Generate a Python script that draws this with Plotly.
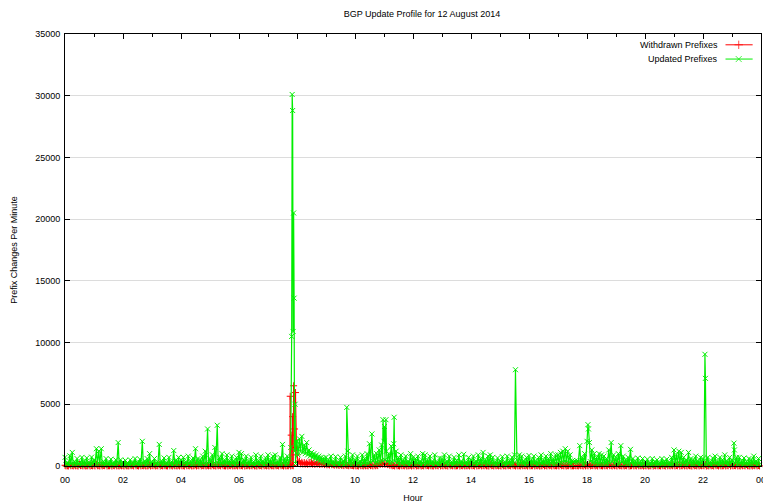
import plotly.graph_objects as go

# ---------------- data ----------------
# Updated prefixes per minute: peaks sampled at minute 5*i (12 values per hour)
updated_5min = [
    700, 300, 820, 1100, 350, 600, 280, 700, 400, 650, 300, 720,      # 00
    500, 1400, 1200, 1400, 350, 600, 300, 550, 250, 500, 1900, 500,   # 01
    300, 450, 250, 500, 300, 600, 280, 550, 2000, 400, 600, 1000,     # 02
    350, 600, 300, 1750, 400, 650, 300, 700, 350, 1250, 500, 700,     # 03
    500, 700, 350, 800, 400, 650, 1400, 600, 500, 800, 1200, 3000,    # 04
    600, 900, 1500, 3300, 700, 1000, 500, 900, 450, 800, 400, 700,    # 05
    1100, 1000, 500, 800, 400, 700, 350, 900, 450, 800, 400, 650,     # 06
    900, 500, 800, 900, 400, 700, 1750, 600, 800, 600, 900, 1200,     # 07
    2000, 2200, 2400, 1700, 1900, 1300, 1100, 1000, 900, 800, 700, 650,  # 08
    700, 500, 800, 400, 750, 350, 700, 400, 800, 1200, 600, 900,      # 09
    500, 800, 400, 900, 600, 1000, 1800, 2600, 900, 1000, 1300, 1700, # 10
    2000, 1200, 1000, 1600, 1800, 1200, 700, 900, 500, 800, 400, 1000,  # 11
    700, 600, 800, 400, 1000, 900, 500, 800, 400, 900, 350, 650,      # 12
    600, 900, 400, 800, 350, 700, 450, 900, 400, 950, 350, 700,       # 13
    500, 800, 400, 900, 600, 1100, 500, 800, 900, 700, 350, 650,      # 14
    400, 750, 350, 800, 450, 700, 900, 500, 900, 800, 400, 700,       # 15
    850, 500, 800, 400, 700, 900, 500, 800, 600, 1000, 600, 900,      # 16
    900, 1100, 1200, 1400, 1200, 900, 450, 400, 420, 1650, 700, 1000, # 17
    2000, 1900, 1300, 1000, 700, 1000, 900, 800, 600, 1300, 1900, 900,  # 18
    700, 1000, 1650, 800, 500, 700, 1350, 600, 400, 650, 350, 600,    # 19
    300, 550, 250, 600, 350, 500, 300, 600, 400, 550, 300, 700,       # 20
    1300, 900, 1200, 1100, 700, 500, 1100, 600, 500, 800, 400, 700,   # 21
    600, 400, 700, 350, 650, 800, 400, 700, 500, 900, 400, 700,       # 22
    500, 1300, 700, 700, 400, 650, 350, 600, 500, 800, 400, 600,      # 23
]
# Updated prefixes: troughs sampled at minute 5*i + 2
updated_5min_low = [
    120, 60, 150, 90, 80, 130, 60, 110, 70, 120, 60, 140,         # 00
    100, 150, 180, 130, 60, 110, 70, 120, 60, 100, 180, 80,       # 01
    60, 110, 50, 120, 70, 130, 60, 110, 150, 70, 120, 100,        # 02
    80, 120, 60, 150, 70, 120, 60, 140, 60, 130, 100, 110,        # 03
    100, 130, 70, 150, 80, 120, 150, 110, 90, 140, 120, 200,      # 04
    120, 160, 180, 200, 130, 150, 100, 160, 80, 140, 70, 120,     # 05
    150, 160, 100, 140, 70, 130, 60, 150, 90, 130, 70, 120,       # 06
    150, 100, 140, 150, 80, 120, 180, 110, 140, 110, 150, 200,    # 07
    900, 1200, 1100, 1000, 900, 800, 700, 600, 500, 400, 300, 250,  # 08
    140, 110, 150, 80, 130, 70, 130, 80, 150, 180, 110, 160,      # 09
    100, 140, 70, 160, 110, 180, 300, 400, 200, 250, 300, 400,    # 10
    500, 350, 250, 300, 400, 250, 140, 160, 100, 150, 80, 180,    # 11
    140, 120, 150, 70, 180, 160, 100, 150, 70, 160, 60, 120,      # 12
    120, 160, 70, 150, 60, 130, 90, 160, 70, 170, 60, 130,        # 13
    100, 150, 70, 160, 120, 190, 100, 150, 160, 130, 60, 120,     # 14
    70, 140, 60, 150, 90, 130, 160, 100, 160, 150, 70, 130,       # 15
    150, 100, 150, 70, 130, 160, 100, 150, 120, 180, 120, 160,    # 16
    160, 250, 300, 300, 250, 160, 300, 300, 320, 300, 130, 180,   # 17
    400, 350, 250, 180, 130, 180, 160, 150, 120, 250, 350, 160,   # 18
    130, 180, 300, 150, 100, 130, 200, 110, 70, 120, 60, 110,     # 19
    60, 100, 50, 110, 70, 100, 60, 110, 80, 100, 60, 130,         # 20
    200, 160, 190, 180, 130, 100, 180, 110, 100, 150, 70, 130,    # 21
    110, 70, 130, 60, 120, 150, 70, 130, 100, 160, 70, 130,       # 22
    100, 200, 130, 130, 70, 120, 60, 110, 100, 150, 70, 110,      # 23
]
# Individual minutes with large bursts of updated prefixes
updated_spike_minutes = [467, 469, 470, 471, 472, 473, 474, 476, 478,
                         583, 658, 661, 664, 681, 932, 1082, 1083, 1324, 1325, 1384]
updated_spike_values = [1500, 10500, 30100, 28800, 10900, 20500, 13600, 5000, 2000,
                        4750, 3750, 3200, 3750, 3950, 7800, 3350, 3000, 9050, 7100, 1850]

# Withdrawn prefixes per minute: peaks at minute 5*i
withdrawn_5min = [
    60, 20, 110, 40, 90, 30, 130, 50, 80, 20, 100, 40,      # 00
    70, 150, 30, 90, 40, 120, 20, 80, 50, 110, 30, 70,      # 01
    40, 100, 20, 80, 60, 130, 30, 90, 40, 70, 20, 100,      # 02
    50, 90, 30, 120, 40, 80, 20, 110, 60, 90, 30, 70,       # 03
    80, 30, 120, 40, 90, 20, 100, 50, 130, 40, 80, 60,      # 04
    40, 110, 30, 90, 60, 120, 20, 80, 50, 100, 30, 70,      # 05
    90, 40, 130, 30, 80, 50, 110, 20, 90, 40, 120, 60,      # 06
    50, 100, 30, 90, 40, 120, 60, 80, 30, 110, 50, 200,     # 07
    900, 400, 300, 280, 250, 300, 260, 240, 280, 220, 250, 200,  # 08
    180, 150, 200, 120, 160, 100, 140, 80, 120, 60, 100, 50,     # 09
    80, 30, 110, 50, 90, 40, 120, 60, 100, 80, 200, 250,    # 10
    220, 200, 150, 90, 40, 110, 30, 80, 50, 100, 20, 70,    # 11
    60, 120, 30, 90, 40, 110, 50, 80, 20, 100, 40, 130,     # 12
    50, 90, 30, 120, 60, 80, 20, 110, 40, 90, 30, 70,       # 13
    80, 40, 120, 30, 100, 50, 90, 20, 130, 40, 80, 60,      # 14
    40, 110, 30, 90, 50, 120, 60, 80, 30, 100, 40, 70,      # 15
    90, 30, 110, 50, 80, 20, 120, 40, 100, 60, 90, 30,      # 16
    60, 120, 40, 90, 30, 110, 20, 40, 30, 80, 50, 100,      # 17
    70, 130, 40, 90, 60, 110, 30, 80, 50, 120, 40, 90,      # 18
    50, 100, 30, 80, 40, 120, 20, 90, 60, 110, 30, 70,      # 19
    40, 90, 20, 110, 50, 80, 30, 100, 40, 130, 60, 80,      # 20
    90, 40, 120, 30, 100, 50, 80, 20, 110, 40, 90, 60,      # 21
    50, 120, 30, 90, 40, 110, 60, 80, 20, 100, 50, 130,     # 22
    70, 40, 110, 30, 90, 50, 120, 20, 80, 60, 100, 40,      # 23
]
# Withdrawn prefixes: troughs at minute 5*i + 2
withdrawn_5min_low = [
    10, 0, 20, 5, 15, 0, 25, 10, 5, 20, 0, 15,       # 00
    5, 20, 0, 10, 25, 5, 15, 0, 20, 10, 5, 15,       # 01
    0, 15, 10, 25, 5, 20, 0, 10, 15, 5, 20, 0,       # 02
    20, 5, 15, 0, 10, 25, 5, 15, 0, 20, 10, 5,       # 03
    15, 0, 20, 10, 5, 25, 0, 15, 10, 20, 5, 10,      # 04
    5, 20, 0, 15, 10, 25, 5, 0, 20, 10, 15, 5,       # 05
    20, 10, 0, 25, 5, 15, 10, 0, 20, 5, 15, 10,      # 06
    0, 15, 10, 20, 5, 25, 0, 10, 15, 5, 20, 60,      # 07
    300, 180, 160, 150, 140, 170, 150, 130, 160, 120, 140, 110,  # 08
    90, 80, 100, 60, 70, 40, 60, 30, 50, 20, 40, 15,             # 09
    10, 0, 20, 5, 15, 10, 25, 5, 20, 30, 120, 150,   # 10
    130, 110, 60, 20, 5, 15, 0, 20, 10, 5, 25, 0,    # 11
    15, 5, 20, 0, 10, 25, 5, 15, 0, 20, 10, 5,       # 12
    5, 20, 0, 15, 10, 5, 25, 0, 15, 10, 20, 5,       # 13
    20, 0, 10, 25, 5, 15, 10, 0, 20, 5, 15, 10,      # 14
    0, 15, 5, 20, 10, 25, 0, 10, 5, 20, 15, 0,       # 15
    10, 20, 5, 15, 0, 25, 10, 5, 20, 0, 15, 10,      # 16
    5, 15, 10, 0, 20, 5, 10, 15, 5, 20, 0, 10,       # 17
    15, 5, 25, 10, 0, 20, 5, 15, 10, 25, 0, 20,      # 18
    0, 20, 10, 5, 15, 0, 25, 10, 5, 15, 20, 0,       # 19
    10, 5, 20, 0, 15, 10, 5, 25, 0, 15, 10, 20,      # 20
    5, 15, 0, 20, 10, 5, 25, 0, 15, 10, 5, 20,       # 21
    20, 0, 10, 15, 5, 25, 0, 10, 20, 5, 15, 0,       # 22
    10, 20, 5, 0, 15, 10, 20, 5, 0, 25, 10, 5,       # 23
]
withdrawn_spike_minutes = [466, 468, 471, 473, 475, 477, 479]
withdrawn_spike_values = [5650, 2500, 4000, 6500, 3000, 5950, 1500]

x_tick_hours = list(range(0, 25, 2))
x_tick_labels = ["%02d" % (h % 24) for h in x_tick_hours]
y_tick_values = list(range(0, 35001, 5000))

series_names = ["Withdrawn Prefixes", "Updated Prefixes"]
series_colors = ["#ff0000", "#00ee00"]
series_symbols = ["cross-thin", "x-thin"]
series_widths = [1, 1.2]


def build(peaks, troughs, spike_minutes, spike_values):
    d = {i * 5: v for i, v in enumerate(peaks)}
    for i, v in enumerate(troughs):
        d[i * 5 + 2] = v
    for m, v in zip(spike_minutes, spike_values):
        d[m] = v
    mins = sorted(d)
    return [m / 60.0 for m in mins], [d[m] for m in mins]


wx, wy = build(withdrawn_5min, withdrawn_5min_low,
               withdrawn_spike_minutes, withdrawn_spike_values)
ux, uy = build(updated_5min, updated_5min_low,
               updated_spike_minutes, updated_spike_values)

FONT = "Liberation Sans, Arial, Helvetica, sans-serif"

fig = go.Figure()
for (xs, ys), name, col, sym, lw in zip([(wx, wy), (ux, uy)], series_names,
                                        series_colors, series_symbols, series_widths):
    fig.add_trace(go.Scatter(
        x=xs, y=ys, mode="lines+markers", name=name,
        line=dict(color=col, width=lw),
        marker=dict(symbol=sym, size=5, color=col, line=dict(color=col, width=1)),
        showlegend=False, cliponaxis=False,
    ))

# gnuplot-style key (text left of sample) on an overlay axis
key_rows = [0.975, 0.942]
for name, col, sym, yk in zip(series_names, series_colors, series_symbols, key_rows):
    fig.add_trace(go.Scatter(
        x=[0.949, 0.968, 0.988], y=[yk, yk, yk], xaxis="x2", yaxis="y2",
        mode="lines+markers", showlegend=False, hoverinfo="skip",
        line=dict(color=col, width=1),
        marker=dict(symbol=sym, size=[0, 6, 0], color=col, line=dict(color=col, width=1)),
    ))
    fig.add_annotation(x=0.941, y=yk, xref="paper", yref="paper", text=name,
                       showarrow=False, xanchor="right", yanchor="middle",
                       font=dict(family=FONT, size=9, color="#000"))

fig.update_layout(
    width=763, height=504,
    margin=dict(l=65, r=2, t=34, b=38, autoexpand=False),
    paper_bgcolor="white", plot_bgcolor="white",
    font=dict(family=FONT, size=9, color="#000"),
    title=dict(text="BGP Update Profile for 12 August 2014", x=0.553, xref="container",
               y=0.972, yref="container", xanchor="center", yanchor="middle",
               font=dict(family=FONT, size=9, color="#000")),
    xaxis=dict(range=[0, 24], tickvals=x_tick_hours, ticktext=x_tick_labels,
               ticks="inside", ticklen=5, tickcolor="#000", tickwidth=1,
               minor=dict(dtick=1, ticks="inside", ticklen=3, tickcolor="#000"),
               showline=True, linecolor="#000", linewidth=1, mirror="ticks",
               showgrid=False, zeroline=False, ticklabeloverflow="allow",
               automargin=False, ticklabelstandoff=5,
               title=dict(text="Hour", standoff=10, font=dict(size=9))),
    yaxis=dict(range=[0, 35000], tickvals=y_tick_values, tickformat="d",
               ticks="inside", ticklen=5, tickcolor="#000", tickwidth=1,
               showline=True, linecolor="#000", linewidth=1, mirror="ticks",
               showgrid=True, gridcolor="#dcdcdc", gridwidth=1, zeroline=False,
               automargin=False, ticklabelstandoff=2,
               title=dict(text="Prefix Changes Per Minute", standoff=16, font=dict(size=9))),
    xaxis2=dict(overlaying="x", range=[0, 1], visible=False, fixedrange=True),
    yaxis2=dict(overlaying="y", range=[0, 1], visible=False, fixedrange=True),
    showlegend=False,
)

fig.write_html("out.html")
